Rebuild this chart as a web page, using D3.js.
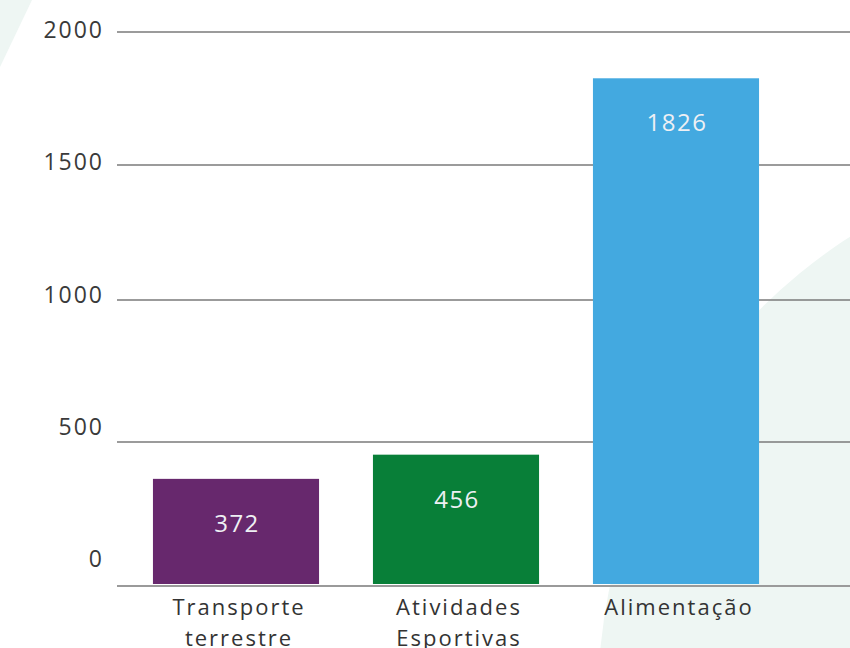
<!DOCTYPE html>
<html>
<head>
<meta charset="utf-8">
<script src="https://cdn.jsdelivr.net/npm/d3@7"></script>
<style>
  html, body { margin: 0; padding: 0; background: #ffffff; }
  svg { display: block; }
  text { font-family: "Open Sans", "DejaVu Sans", sans-serif; }
</style>
</head>
<body>
<svg id="chart" width="850" height="648"></svg>
<script>
const categories = [["Transporte", "terrestre"], ["Atividades", "Esportivas"], ["Alimentação"]];
const values = [372, 456, 1826];
const colors = ["#67286d", "#087f38", "#43a9e0"];
const tickValues = [0, 500, 1000, 1500, 2000];
const tickLabels = ["0", "500", "1000", "1500", "2000"];

const svg = d3.select("#chart");
const W = 850, H = 648;

// decorative background shapes
svg.append("path")
  .attr("d", "M0,0 L32,0 L0,67 Z")
  .attr("fill", "#eef6f3");
svg.append("circle")
  .attr("cx", 1150).attr("cy", 700).attr("r", 552)
  .attr("fill", "#eef6f3");

// scales
const y = d3.scaleLinear()
  .domain(tickValues)
  .range([586, 442, 300, 165, 32]);
const yLabel = d3.scaleLinear()
  .domain([0, 2000])
  .range([567, 38]);
const x = d3.scaleBand()
  .domain(d3.range(values.length))
  .range([126, 786])
  .paddingInner(0.245)
  .paddingOuter(0.1225);

// gridlines
svg.append("g")
  .selectAll("line")
  .data(tickValues)
  .join("line")
  .attr("x1", 117).attr("x2", W)
  .attr("y1", d => y(d)).attr("y2", d => y(d))
  .attr("stroke", d => d === 0 ? "#9a9a9a" : "#7a7a7a")
  .attr("stroke-width", d => d === 0 ? 2 : 1.4);

// y tick labels
svg.append("g")
  .selectAll("text")
  .data(tickValues)
  .join("text")
  .attr("x", 104)
  .attr("y", d => yLabel(d))
  .attr("text-anchor", "end")
  .attr("font-size", 23)
  .attr("letter-spacing", 2)
  .attr("fill", "#3a3a3a")
  .text((d, i) => tickLabels[i]);

// bars
svg.append("g")
  .selectAll("rect")
  .data(values)
  .join("rect")
  .attr("x", (d, i) => x(i))
  .attr("width", x.bandwidth())
  .attr("y", d => y(d))
  .attr("height", d => y(0) - 2 - y(d))
  .attr("fill", (d, i) => colors[i]);

// value labels
svg.append("g")
  .selectAll("text")
  .data(values)
  .join("text")
  .attr("x", (d, i) => x(i) + x.bandwidth() / 2 + 1)
  .attr("y", d => y(d) + 53)
  .attr("text-anchor", "middle")
  .attr("font-size", 24)
  .attr("letter-spacing", 1.5)
  .attr("fill", "#eef0f4")
  .text(d => d);

// category labels
const cat = svg.append("g")
  .selectAll("text")
  .data(categories)
  .join("text")
  .attr("x", (d, i) => x(i) + x.bandwidth() / 2 + 3)
  .attr("y", 615)
  .attr("text-anchor", "middle")
  .attr("font-size", 22)
  .attr("letter-spacing", 2)
  .attr("fill", "#333333");
cat.selectAll("tspan")
  .data(d => d)
  .join("tspan")
  .attr("x", function() { return d3.select(this.parentNode).attr("x"); })
  .attr("dy", (d, i) => i === 0 ? 0 : 31)
  .text(d => d);
</script>
</body>
</html>
